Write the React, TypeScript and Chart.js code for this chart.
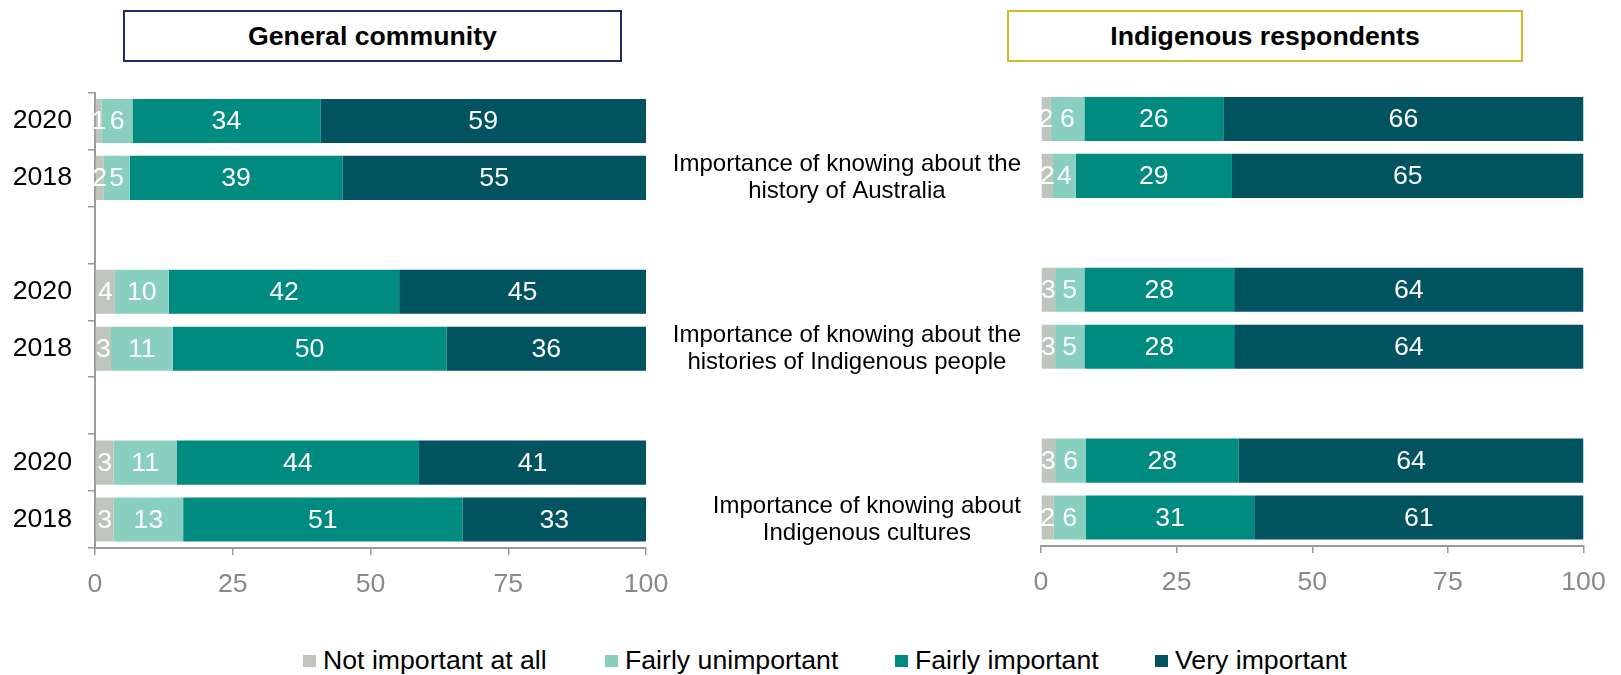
import React, { useEffect, useRef } from 'react';
import { Chart, registerables } from 'chart.js';

Chart.register(...registerables);

// ---------- DATA ----------
const seriesNames = ['Not important at all', 'Fairly unimportant', 'Fairly important', 'Very important'];

const generalCategories = ['2020', '2018', '', '2020', '2018', '', '2020', '2018'];
const indigenousCategories: (string | string[])[] = [
  '',
  ['Importance of knowing about the', 'history of Australia'],
  '',
  '',
  ['Importance of knowing about the', 'histories of Indigenous people'],
  '',
  '',
  ['Importance of knowing about', 'Indigenous cultures'],
];

const generalNotImportant = [1.2, 1.6, null, 3.6, 2.9, null, 3.4, 3.4];
const generalFairlyUnimportant = [5.6, 4.7, null, 9.8, 11.2, null, 11.4, 12.6];
const generalFairlyImportant = [34.1, 38.6, null, 41.8, 49.7, null, 44.0, 50.7];
const generalVeryImportant = [59.1, 55.1, null, 44.8, 36.2, null, 41.2, 33.3];

const indigenousNotImportant = [1.7, 2.2, null, 2.6, 2.6, null, 2.6, 2.3];
const indigenousFairlyUnimportant = [6.3, 4.2, null, 5.4, 5.4, null, 5.7, 6.0];
const indigenousFairlyImportant = [25.6, 28.8, null, 27.6, 27.6, null, 28.1, 31.0];
const indigenousVeryImportant = [66.4, 64.8, null, 64.4, 64.4, null, 63.6, 60.7];

const xTickValues = [0, 25, 50, 75, 100];

// ---------- STYLE ----------
const FONT = "'Liberation Sans', Arial, Helvetica, sans-serif";
const seriesColors = ['#BEC5BA', '#89CFC0', '#008B80', '#01535F'];
const axisColor = '#9a9a9a';
const tickLabelColor = '#898989';

const valueLabelPlugin = {
  id: 'valueLabels',
  afterDatasetsDraw(chart: any) {
    const ctx = chart.ctx;
    ctx.save();
    ctx.font = `26.67px ${FONT}`;
    ctx.fillStyle = '#ffffff';
    ctx.textAlign = 'center';
    ctx.textBaseline = 'middle';
    chart.data.datasets.forEach((ds: any, di: number) => {
      const meta = chart.getDatasetMeta(di);
      meta.data.forEach((el: any, i: number) => {
        const v = ds.data[i];
        if (v == null) return;
        const { x, y, base } = el.getProps(['x', 'y', 'base'], true);
        ctx.fillText(String(Math.round(v)), (x + base) / 2, y + 1);
      });
    });
    ctx.restore();
  },
};

const indigenousLabelPlugin = {
  id: 'indigenousLabels',
  afterDraw(chart: any) {
    const ctx = chart.ctx;
    const yScale = chart.scales.y;
    const area = chart.chartArea;
    ctx.save();
    ctx.font = `24px ${FONT}`;
    ctx.fillStyle = '#000000';
    ctx.textAlign = 'center';
    ctx.textBaseline = 'middle';
    indigenousCategories.forEach((lab, i) => {
      if (!Array.isArray(lab)) return;
      const w = Math.max(...lab.map((l) => ctx.measureText(l).width));
      const cx = area.left - 20 - w / 2;
      const cy = yScale.getPixelForValue(i) + 2;
      const lh = 27;
      lab.forEach((line, k) => {
        ctx.fillText(line, cx, cy + (k - (lab.length - 1) / 2) * lh);
      });
    });
    ctx.restore();
  },
};

function makeConfig(
  labels: any[],
  series: (number | null)[][],
  opts: { padTop: number; padRight: number; yWidth: number; xHeight: number; showY: boolean },
  extraPlugins: any[]
): any {
  return {
    type: 'bar',
    data: {
      labels,
      datasets: series.map((data, i) => ({
        label: seriesNames[i],
        data,
        backgroundColor: seriesColors[i],
        borderWidth: 0,
        barPercentage: 0.775,
        categoryPercentage: 1,
        clip: 0,
      })),
    },
    options: {
      indexAxis: 'y',
      responsive: false,
      maintainAspectRatio: false,
      animation: false,
      layout: { padding: { top: opts.padTop, right: opts.padRight, bottom: 0, left: 0 } },
      plugins: {
        legend: { display: false },
        tooltip: { enabled: false },
        title: { display: false },
      },
      scales: {
        x: {
          stacked: true,
          min: 0,
          max: 100,
          afterBuildTicks: (scale: any) => {
            scale.ticks = xTickValues.map((v) => ({ value: v }));
          },
          ticks: {
            color: tickLabelColor,
            font: { family: FONT, size: 26.67 },
            padding: 14,
            maxRotation: 0,
            autoSkip: false,
          },
          grid: {
            drawOnChartArea: false,
            drawTicks: true,
            tickLength: 7,
            color: axisColor,
            lineWidth: 1.5,
          },
          border: { display: true, color: axisColor, width: 2 },
          afterFit: (s: any) => {
            s.height = opts.xHeight;
          },
        },
        y: {
          stacked: true,
          offset: true,
          ticks: {
            display: opts.showY,
            color: '#000000',
            font: { family: FONT, size: 26.67 },
            padding: 16,
            autoSkip: false,
          },
          grid: {
            display: opts.showY,
            offset: true,
            drawOnChartArea: false,
            drawTicks: true,
            tickLength: 7,
            color: axisColor,
            lineWidth: 1.5,
          },
          border: { display: opts.showY, color: axisColor, width: 2 },
          afterFit: (s: any) => {
            s.width = opts.yWidth;
          },
        },
      },
    },
    plugins: [valueLabelPlugin, ...extraPlugins],
  };
}

const titleBox = (left: number, width: number, color: string): React.CSSProperties => ({
  position: 'absolute',
  left,
  top: 10,
  width,
  height: 52,
  boxSizing: 'border-box',
  border: `2px solid ${color}`,
  display: 'flex',
  alignItems: 'center',
  justifyContent: 'center',
  fontFamily: FONT,
  fontWeight: 'bold',
  fontSize: 26.67,
  color: '#000',
  background: '#fff',
});

const legendLeft = [303, 605, 895, 1155];

export default function App() {
  const leftRef = useRef<HTMLCanvasElement>(null);
  const rightRef = useRef<HTMLCanvasElement>(null);

  useEffect(() => {
    const left = new Chart(
      leftRef.current as HTMLCanvasElement,
      makeConfig(
        generalCategories,
        [generalNotImportant, generalFairlyUnimportant, generalFairlyImportant, generalVeryImportant],
        { padTop: 32.5, padRight: 44, yWidth: 95, xHeight: 72, showY: true },
        []
      )
    );
    const right = new Chart(
      rightRef.current as HTMLCanvasElement,
      makeConfig(
        indigenousCategories,
        [indigenousNotImportant, indigenousFairlyUnimportant, indigenousFairlyImportant, indigenousVeryImportant],
        { padTop: 30.5, padRight: 37.5, yWidth: 411, xHeight: 74, showY: false },
        [indigenousLabelPlugin]
      )
    );
    return () => {
      left.destroy();
      right.destroy();
    };
  }, []);

  return (
    <div
      style={{
        position: 'absolute',
        left: 0,
        top: 0,
        width: 1621,
        height: 675,
        background: '#fff',
        overflow: 'hidden',
        fontFamily: FONT,
      }}
    >
      <div style={titleBox(123, 499, '#1F2A6B')}>General community</div>
      <div style={titleBox(1007, 516, '#D3BA26')}>Indigenous respondents</div>
      <canvas
        ref={leftRef}
        width={690}
        height={560}
        style={{ position: 'absolute', left: 0, top: 60, width: 690, height: 560 }}
      />
      <canvas
        ref={rightRef}
        width={991}
        height={560}
        style={{ position: 'absolute', left: 630, top: 60, width: 991, height: 560 }}
      />
      {seriesNames.map((name, i) => (
        <React.Fragment key={name}>
          <div
            style={{
              position: 'absolute',
              left: legendLeft[i],
              top: 655,
              width: 13,
              height: 12,
              background: seriesColors[i],
            }}
          />
          <div
            style={{
              position: 'absolute',
              left: legendLeft[i] + 20,
              top: 644,
              lineHeight: '32px',
              fontSize: 26.67,
              color: '#000',
              whiteSpace: 'nowrap',
              fontFamily: FONT,
            }}
          >
            {name}
          </div>
        </React.Fragment>
      ))}
    </div>
  );
}
